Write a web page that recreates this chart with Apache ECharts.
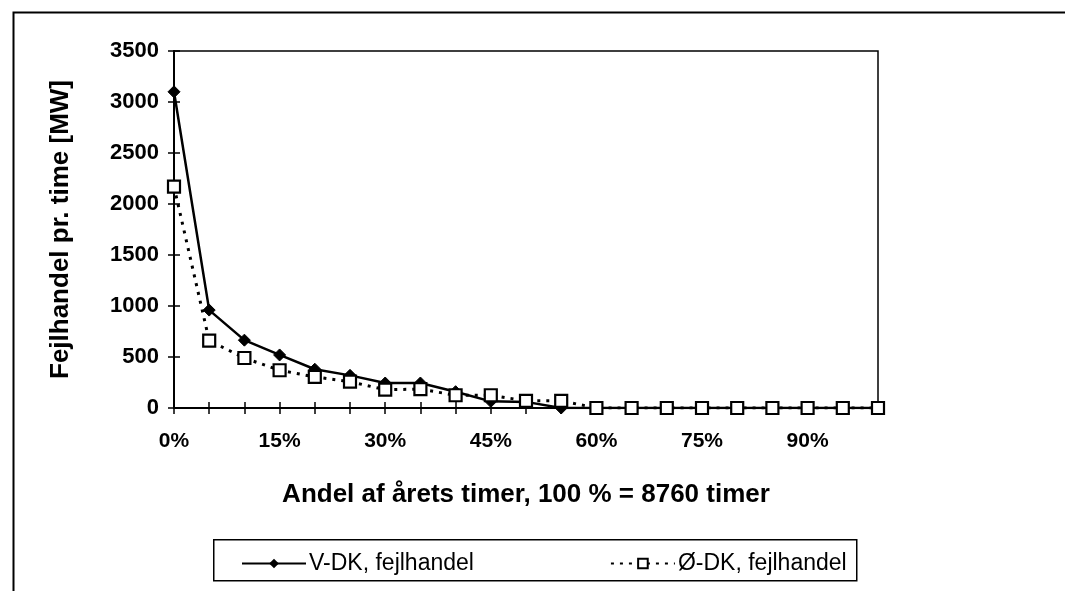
<!DOCTYPE html>
<html>
<head>
<meta charset="utf-8">
<script src="https://cdn.jsdelivr.net/npm/echarts@6/dist/echarts.min.js"></script>
<style>
html,body{margin:0;padding:0;background:#fff;}
#c{width:1065px;height:591px;}
</style>
</head>
<body>
<div id="c"></div>
<script>
const categories = ['0%','5%','10%','15%','20%','25%','30%','35%','40%','45%','50%','55%','60%','65%','70%','75%','80%','85%','90%','95%','100%'];
const vdk = [3100, 960, 665, 520, 380, 320, 245, 245, 160, 65, 60, 0, 0, 0, 0, 0, 0, 0, 0, 0, 0];
const odk = [2170, 660, 490, 370, 305, 258, 180, 185, 125, 125, 70, 70, 0, 0, 0, 0, 0, 0, 0, 0, 0];
const seriesNames = ['V-DK, fejlhandel', 'Ø-DK, fejlhandel'];
const yTitle = 'Fejlhandel pr. time [MW]';
const xTitle = 'Andel af årets timer, 100 % = 8760 timer';

const font = 'Liberation Sans, Arial, sans-serif';
const chart = echarts.init(document.getElementById('c'), null, {renderer:'canvas'});
chart.setOption({
  backgroundColor: '#fff',
  animation: false,
  grid: {left:174, right:187, top:51, bottom:183, show:true, borderColor:'#000', borderWidth:1.5, backgroundColor:'transparent'},
  graphic: [
    {type:'rect', left:11, top:10, shape:{width:1100, height:700}, style:{fill:'none', stroke:'#000', lineWidth:2}, z:-1},
    {type:'rect', left:213, top:539, shape:{width:643, height:41}, style:{fill:'#fff', stroke:'#000', lineWidth:1.5}, z:0}
  ],
  legend: {
    left: 236, top: 547, itemWidth: 64, itemHeight: 12, itemGap: 136,
    textStyle: {fontFamily: font, fontSize: 23, color:'#000', padding:[0,0,0,-2]},
    data: seriesNames, z: 5
  },
  xAxis: [{
    type:'category', data: categories, boundaryGap:false,
    axisLine:{lineStyle:{color:'#000', width:2}},
    axisTick:{show:true, interval:0, length:6, lineStyle:{color:'#000', width:1.5}},
    axisLabel:{interval:2, margin:23, fontFamily:font, fontSize:21, fontWeight:'bold', color:'#000'},
    splitLine:{show:false},
    name: xTitle, nameLocation:'middle', nameGap:74,
    nameTextStyle:{fontFamily:font, fontSize:26, fontWeight:'bold', color:'#000'}
  },{
    type:'category', data: categories, boundaryGap:false, position:'bottom',
    axisLine:{show:false},
    axisTick:{show:true, inside:true, interval:0, length:6, lineStyle:{color:'#000', width:1.5}},
    axisLabel:{show:false}, splitLine:{show:false}
  }],
  yAxis: [{
    type:'value', min:0, max:3500, interval:500,
    axisLine:{show:true, lineStyle:{color:'#000', width:2}},
    axisTick:{show:true, length:6, lineStyle:{color:'#000', width:1.5}},
    axisLabel:{margin:15, fontFamily:font, fontSize:22, fontWeight:'bold', color:'#000', formatter: v => String(v)},
    splitLine:{show:false},
    name: yTitle, nameLocation:'middle', nameGap:100,
    nameTextStyle:{fontFamily:font, fontSize:26, fontWeight:'bold', color:'#000'}
  },{
    type:'value', min:0, max:3500, interval:500, position:'left',
    axisLine:{show:false},
    axisTick:{show:true, inside:true, length:6, lineStyle:{color:'#000', width:1.5}},
    axisLabel:{show:false}, splitLine:{show:false}
  }],
  series: [{
    name: seriesNames[0], type:'line', data: vdk,
    symbol:'diamond', symbolSize:12,
    lineStyle:{color:'#000', width:2.5, type:'solid'},
    itemStyle:{color:'#000', borderColor:'#000'},
    z: 3
  },{
    name: seriesNames[1], type:'line', data: odk,
    symbol:'rect', symbolSize:12,
    lineStyle:{color:'#000', width:3, type:[3,6]},
    itemStyle:{color:'#fff', borderColor:'#000', borderWidth:2.2},
    z: 4
  }]
});
</script>
</body>
</html>
